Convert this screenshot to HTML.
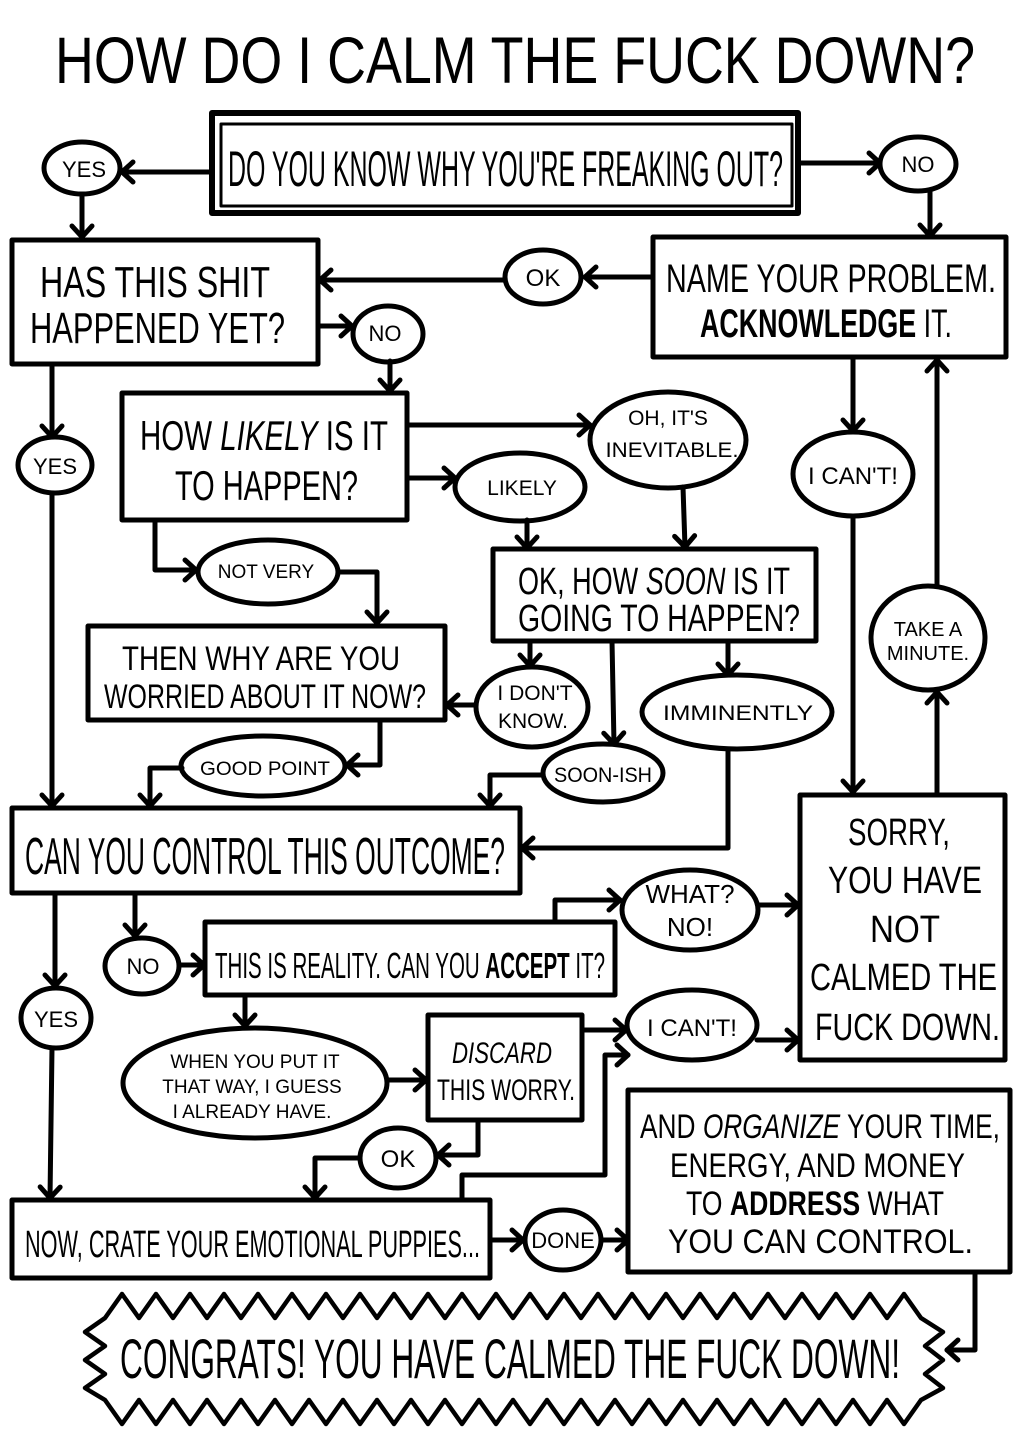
<!DOCTYPE html>
<html><head><meta charset="utf-8"><style>
html,body{margin:0;padding:0;background:#fff;}
svg{display:block;}
text{font-family:"Liberation Sans Narrow","Liberation Sans",sans-serif;fill:#000;}
</style></head><body>
<svg width="1023" height="1433" viewBox="0 0 1023 1433" xmlns="http://www.w3.org/2000/svg">
<defs>
<marker id="a" markerUnits="userSpaceOnUse" markerWidth="30" markerHeight="30" viewBox="-15 -15 30 30" refX="0" refY="0" orient="auto" overflow="visible">
<path d="M-11,-10 L0,0 L-11,10" fill="none" stroke="#000" stroke-width="5" stroke-linecap="round" stroke-linejoin="round"/>
</marker>
</defs>
<rect width="1023" height="1433" fill="#fff"/>

<!-- Title -->
<text x="55" y="83" font-size="66" textLength="920" lengthAdjust="spacingAndGlyphs">HOW DO I CALM THE FUCK DOWN?</text>

<g fill="none" stroke="#000" stroke-width="5" stroke-linejoin="round" stroke-linecap="round">
<!-- Boxes -->
<rect x="212" y="113" width="586" height="100" stroke-width="6"/>
<rect x="221" y="124" width="571" height="82" stroke-width="3"/>
<rect x="12" y="240" width="306" height="124"/>
<rect x="653" y="237" width="353" height="120"/>
<rect x="122" y="393" width="285" height="127"/>
<rect x="493" y="549" width="323" height="92"/>
<rect x="88" y="626" width="357" height="94"/>
<rect x="12" y="808" width="508" height="85"/>
<rect x="800" y="795" width="205" height="265"/>
<rect x="205" y="922" width="410" height="73"/>
<rect x="428" y="1015" width="154" height="105"/>
<rect x="12" y="1200" width="478" height="78"/>
<rect x="628" y="1090" width="382" height="182"/>

<!-- Ellipses -->
<ellipse cx="82" cy="168" rx="38" ry="26"/>
<ellipse cx="918" cy="164" rx="38" ry="27"/>
<ellipse cx="543" cy="277" rx="38" ry="27"/>
<ellipse cx="388" cy="334" rx="35" ry="28"/>
<ellipse cx="55" cy="465" rx="37" ry="28"/>
<ellipse cx="668" cy="440" rx="78" ry="48"/>
<ellipse cx="520" cy="487" rx="65" ry="34"/>
<ellipse cx="853" cy="474" rx="60" ry="42"/>
<ellipse cx="268" cy="572" rx="70" ry="32"/>
<ellipse cx="532" cy="707" rx="56" ry="40"/>
<ellipse cx="737" cy="712" rx="95" ry="37"/>
<ellipse cx="603" cy="773" rx="60" ry="29"/>
<ellipse cx="263" cy="766" rx="82" ry="30"/>
<ellipse cx="928" cy="638" rx="57" ry="52"/>
<ellipse cx="56" cy="1018" rx="35" ry="30"/>
<ellipse cx="142" cy="966" rx="37" ry="28"/>
<ellipse cx="690" cy="910" rx="68" ry="40"/>
<ellipse cx="255" cy="1083" rx="132" ry="55"/>
<ellipse cx="692" cy="1025" rx="65" ry="35"/>
<ellipse cx="398" cy="1158" rx="38" ry="30"/>
<ellipse cx="563" cy="1240" rx="38" ry="30"/>

<!-- Congrats banner -->
<polygon stroke-width="4.5" points="105,1318 122,1294 139,1318 156,1294 173,1318 190,1294 207,1318 224,1294 241,1318 258,1294 275,1318 292,1294 309,1318 326,1294 343,1318 360,1294 377,1318 394,1294 411,1318 428,1294 445,1318 462,1294 479,1318 496,1294 513,1318 530,1294 547,1318 564,1294 581,1318 598,1294 615,1318 632,1294 649,1318 666,1294 683,1318 700,1294 717,1318 734,1294 751,1318 768,1294 785,1318 802,1294 819,1318 836,1294 853,1318 870,1294 887,1318 904,1294 921,1318 943,1332 925,1346 943,1360 925,1374 943,1388 921,1400 904,1424 887,1400 870,1424 853,1400 836,1424 819,1400 802,1424 785,1400 768,1424 751,1400 734,1424 717,1400 700,1424 683,1400 666,1424 649,1400 632,1424 615,1400 598,1424 581,1400 564,1424 547,1400 530,1424 513,1400 496,1424 479,1400 462,1424 445,1400 428,1424 411,1400 394,1424 377,1400 360,1424 343,1400 326,1424 309,1400 292,1424 275,1400 258,1424 241,1400 224,1424 207,1400 190,1424 173,1400 156,1424 139,1400 122,1424 105,1400 85,1388 105,1374 85,1360 105,1346 85,1332"/>

<!-- Connectors -->
<g marker-end="url(#a)">
<path d="M210,172 L122,172"/>
<path d="M800,163 L880,163"/>
<path d="M82,195 L82,237"/>
<path d="M930,190 L930,236"/>
<path d="M653,277 L585,277"/>
<path d="M505,280 L320,280"/>
<path d="M318,326 L352,326"/>
<path d="M390,361 L390,391"/>
<path d="M52,365 L52,437"/>
<path d="M52,493 L52,806"/>
<path d="M407,425 L590,425"/>
<path d="M407,478 L455,478"/>
<path d="M527,520 L527,548"/>
<path d="M683,487 L685,547"/>
<path d="M155,520 L155,570 L196,570"/>
<path d="M340,572 L377,572 L377,623"/>
<path d="M530,641 L530,666"/>
<path d="M612,641 L614,744"/>
<path d="M728,641 L728,675"/>
<path d="M476,705 L447,705"/>
<path d="M380,720 L380,765 L347,765"/>
<path d="M182,768 L150,768 L150,806"/>
<path d="M543,775 L490,775 L490,806"/>
<path d="M728,750 L728,848 L522,848"/>
<path d="M853,357 L853,431"/>
<path d="M853,516 L853,792"/>
<path d="M937,795 L937,692"/>
<path d="M937,585 L937,360"/>
<path d="M55,893 L55,986"/>
<path d="M52,1048 L50,1198"/>
<path d="M135,893 L135,936"/>
<path d="M180,965 L204,965"/>
<path d="M555,922 L555,900 L620,900"/>
<path d="M758,905 L798,905"/>
<path d="M245,995 L245,1026"/>
<path d="M388,1080 L426,1080"/>
<path d="M582,1030 L626,1030"/>
<path d="M757,1040 L798,1040"/>
<path d="M478,1120 L478,1155 L438,1155"/>
<path d="M360,1158 L315,1158 L315,1198"/>
<path d="M462,1200 L462,1175 L605,1175 L605,1055 L628,1055"/>
<path d="M490,1240 L523,1240"/>
<path d="M601,1240 L628,1240"/>
<path d="M975,1272 L975,1350 L947,1350"/>
</g>
</g>

<!-- Box texts -->
<text x="228" y="186" font-size="50" textLength="555" lengthAdjust="spacingAndGlyphs">DO YOU KNOW WHY YOU'RE FREAKING OUT?</text>
<text x="40" y="297" font-size="44" textLength="230" lengthAdjust="spacingAndGlyphs">HAS THIS SHIT</text>
<text x="30" y="343" font-size="44" textLength="255" lengthAdjust="spacingAndGlyphs">HAPPENED YET?</text>
<text x="666" y="292" font-size="40" textLength="330" lengthAdjust="spacingAndGlyphs">NAME YOUR PROBLEM.</text>
<text x="700" y="337" font-size="40" font-weight="bold" textLength="252" lengthAdjust="spacingAndGlyphs">ACKNOWLEDGE <tspan font-weight="normal">IT.</tspan></text>
<text x="140" y="450" font-size="42" textLength="248" lengthAdjust="spacingAndGlyphs">HOW <tspan font-style="italic">LIKELY</tspan> IS IT</text>
<text x="175" y="500" font-size="42" textLength="183" lengthAdjust="spacingAndGlyphs">TO HAPPEN?</text>
<text x="518" y="594" font-size="38" textLength="272" lengthAdjust="spacingAndGlyphs">OK, HOW <tspan font-style="italic">SOON</tspan> IS IT</text>
<text x="518" y="631" font-size="38" textLength="282" lengthAdjust="spacingAndGlyphs">GOING TO HAPPEN?</text>
<text x="122" y="670" font-size="34" textLength="278" lengthAdjust="spacingAndGlyphs">THEN WHY ARE YOU</text>
<text x="104" y="708" font-size="34" textLength="322" lengthAdjust="spacingAndGlyphs">WORRIED ABOUT IT NOW?</text>
<text x="25" y="874" font-size="52" textLength="480" lengthAdjust="spacingAndGlyphs">CAN YOU CONTROL THIS OUTCOME?</text>
<text x="215" y="978" font-size="36" textLength="390" lengthAdjust="spacingAndGlyphs">THIS IS REALITY. CAN YOU <tspan font-weight="bold">ACCEPT</tspan> IT?</text>
<text x="452" y="1063" font-size="30" font-style="italic" textLength="100" lengthAdjust="spacingAndGlyphs">DISCARD</text>
<text x="437" y="1100" font-size="30" textLength="138" lengthAdjust="spacingAndGlyphs">THIS WORRY.</text>
<text x="25" y="1257" font-size="38" textLength="455" lengthAdjust="spacingAndGlyphs">NOW, CRATE YOUR EMOTIONAL PUPPIES...</text>
<text x="640" y="1138" font-size="34" textLength="360" lengthAdjust="spacingAndGlyphs">AND <tspan font-style="italic">ORGANIZE</tspan> YOUR TIME,</text>
<text x="670" y="1177" font-size="34" textLength="295" lengthAdjust="spacingAndGlyphs">ENERGY, AND MONEY</text>
<text x="686" y="1215" font-size="34" textLength="258" lengthAdjust="spacingAndGlyphs">TO <tspan font-weight="bold">ADDRESS</tspan> WHAT</text>
<text x="668" y="1253" font-size="34" textLength="305" lengthAdjust="spacingAndGlyphs">YOU CAN CONTROL.</text>
<text x="848" y="845" font-size="38" textLength="102" lengthAdjust="spacingAndGlyphs">SORRY,</text>
<text x="828" y="893" font-size="38" textLength="154" lengthAdjust="spacingAndGlyphs">YOU HAVE</text>
<text x="870" y="942" font-size="38" textLength="70" lengthAdjust="spacingAndGlyphs">NOT</text>
<text x="810" y="990" font-size="38" textLength="187" lengthAdjust="spacingAndGlyphs">CALMED THE</text>
<text x="815" y="1040" font-size="38" textLength="185" lengthAdjust="spacingAndGlyphs">FUCK DOWN.</text>
<text x="120" y="1378" font-size="56" textLength="780" lengthAdjust="spacingAndGlyphs">CONGRATS! YOU HAVE CALMED THE FUCK DOWN!</text>

<!-- Ellipse labels -->
<g text-anchor="middle">
<text x="84" y="177" font-size="22">YES</text>
<text x="918" y="172" font-size="22">NO</text>
<text x="543" y="286" font-size="24">OK</text>
<text x="385" y="341" font-size="22">NO</text>
<text x="55" y="474" font-size="22">YES</text>
<text x="668" y="425" font-size="21">OH, IT'S</text>
<text x="672" y="457" font-size="21" textLength="133" lengthAdjust="spacingAndGlyphs">INEVITABLE.</text>
<text x="522" y="495" font-size="21">LIKELY</text>
<text x="853" y="484" font-size="24">I CAN'T!</text>
<text x="266" y="578" font-size="19">NOT VERY</text>
<text x="535" y="700" font-size="21">I DON'T</text>
<text x="533" y="728" font-size="21">KNOW.</text>
<text x="738" y="720" font-size="21" textLength="150" lengthAdjust="spacingAndGlyphs">IMMINENTLY</text>
<text x="603" y="782" font-size="21" textLength="98" lengthAdjust="spacingAndGlyphs">SOON-ISH</text>
<text x="265" y="775" font-size="19" textLength="130" lengthAdjust="spacingAndGlyphs">GOOD POINT</text>
<text x="928" y="636" font-size="20">TAKE A</text>
<text x="928" y="660" font-size="20">MINUTE.</text>
<text x="56" y="1027" font-size="22">YES</text>
<text x="143" y="974" font-size="22">NO</text>
<text x="690" y="903" font-size="26">WHAT?</text>
<text x="690" y="936" font-size="26">NO!</text>
<text x="255" y="1068" font-size="19">WHEN YOU PUT IT</text>
<text x="252" y="1093" font-size="19">THAT WAY, I GUESS</text>
<text x="252" y="1118" font-size="19">I ALREADY HAVE.</text>
<text x="692" y="1036" font-size="24">I CAN'T!</text>
<text x="398" y="1167" font-size="24">OK</text>
<text x="563" y="1248" font-size="22">DONE</text>
</g>
</svg>
</body></html>
